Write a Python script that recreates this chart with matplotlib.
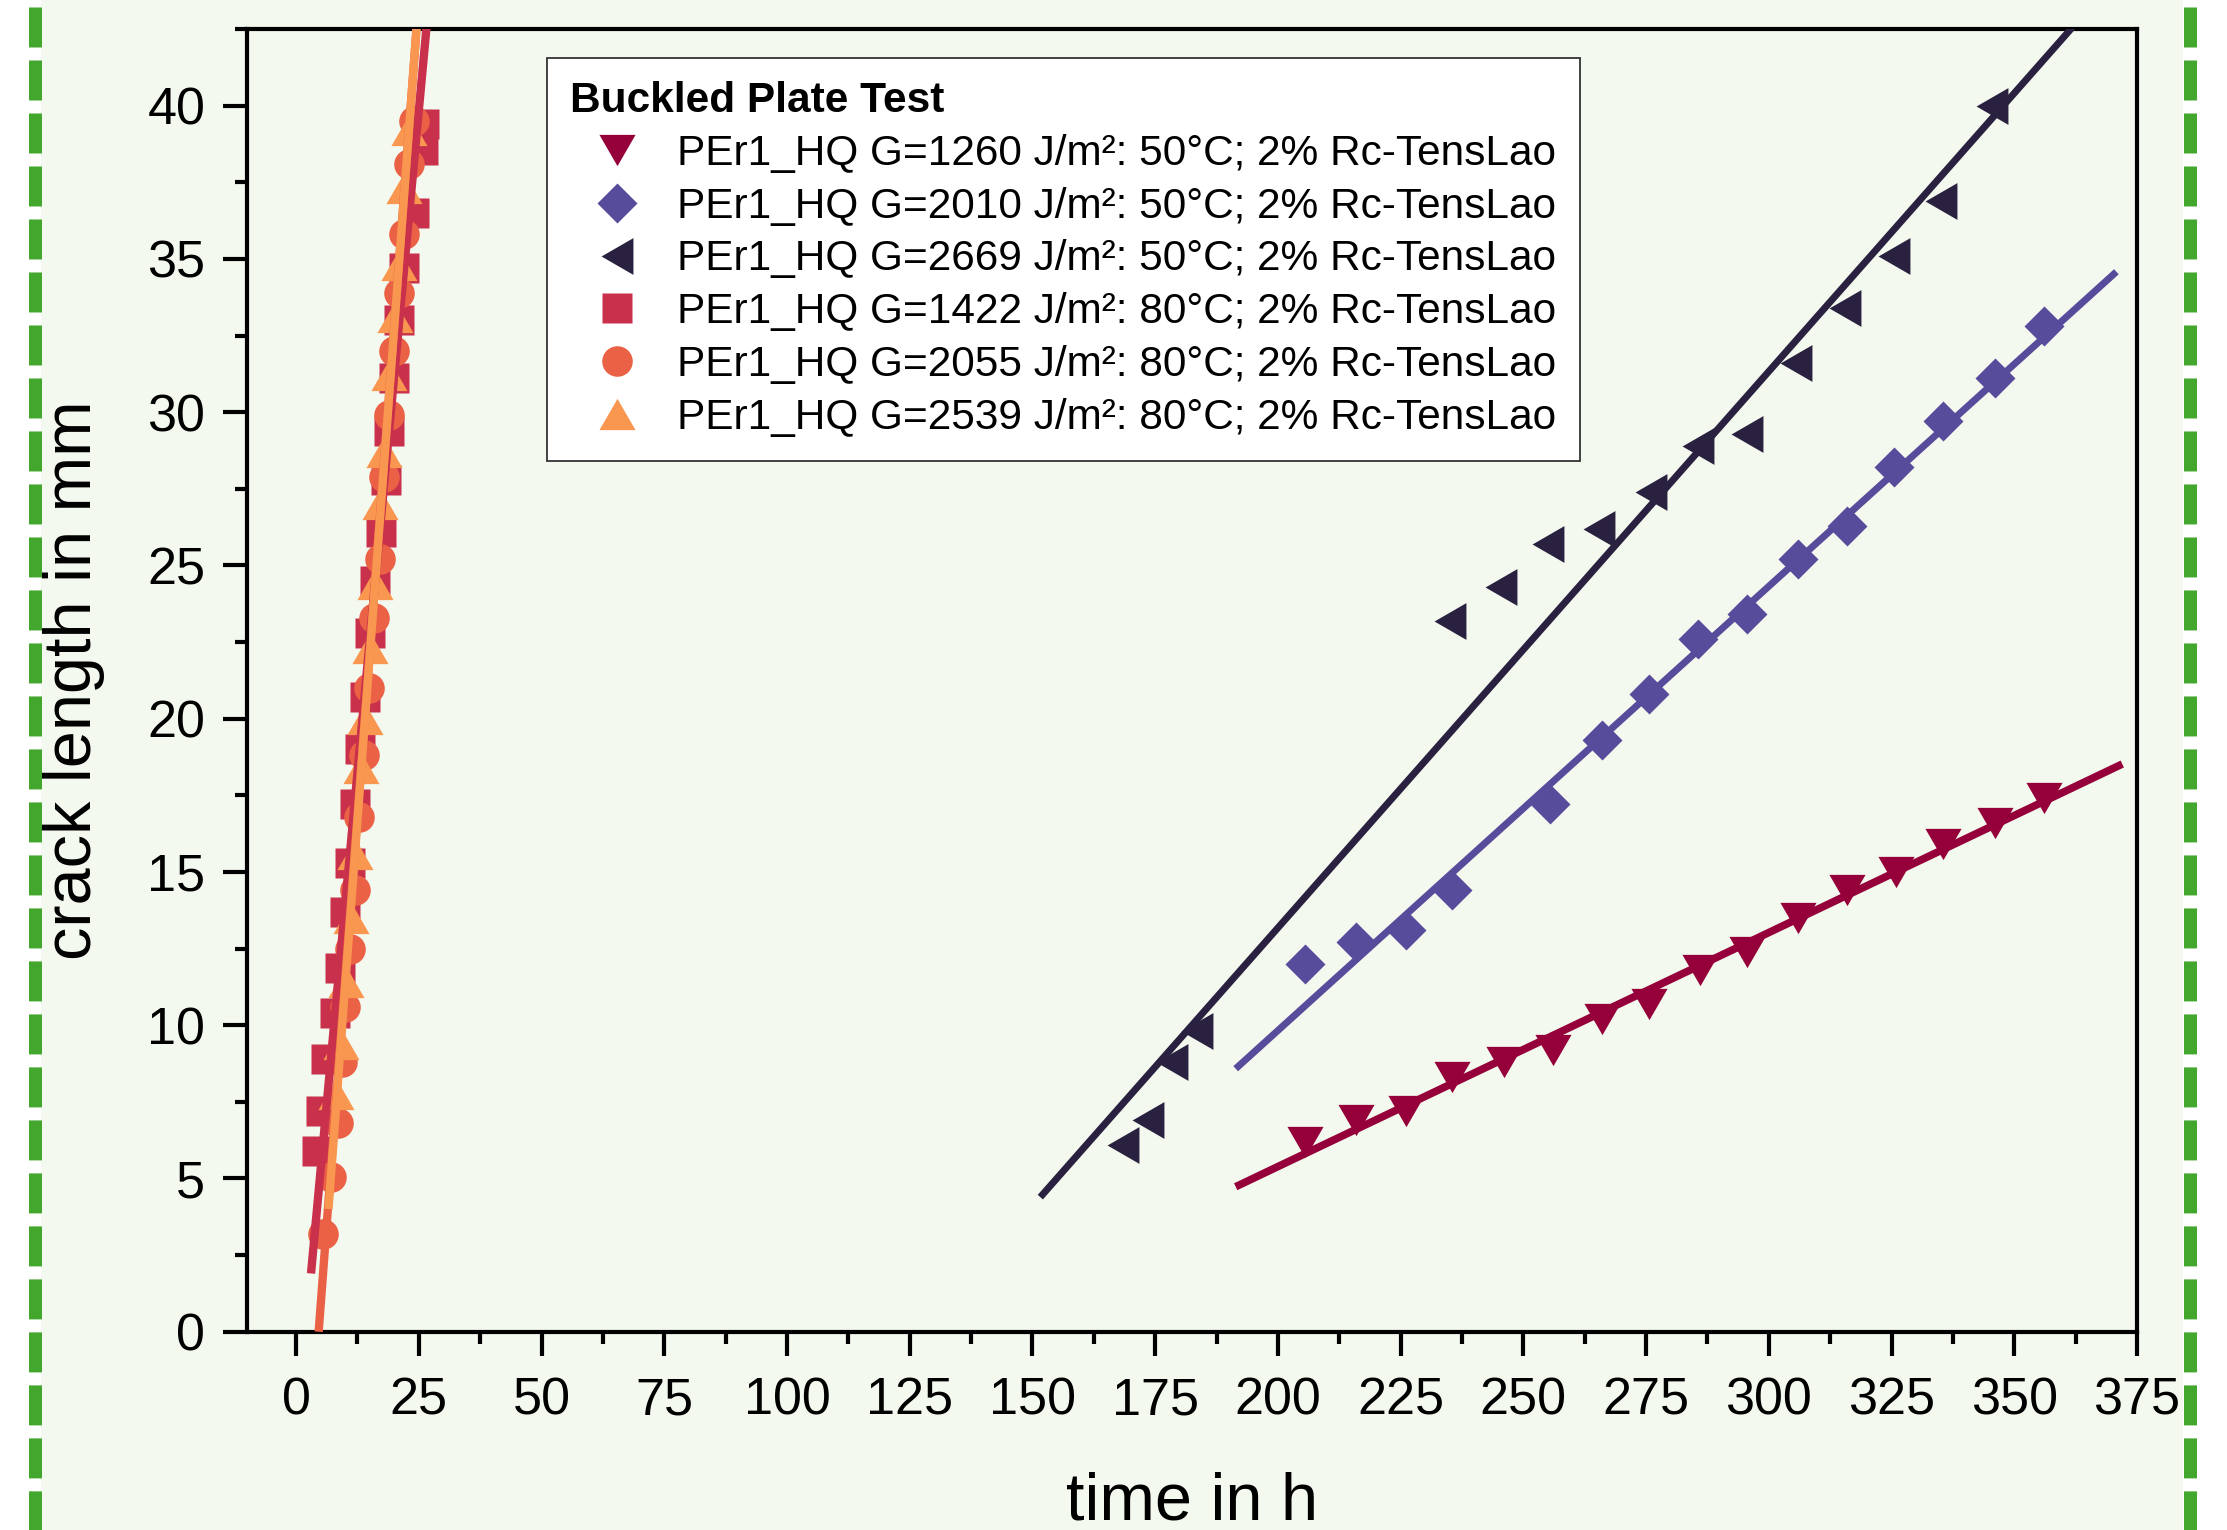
import matplotlib
matplotlib.use("Agg")
import matplotlib.pyplot as plt
from matplotlib.lines import Line2D
from matplotlib.patches import Rectangle
from matplotlib.ticker import MultipleLocator

plt.rcParams['font.family'] = ['Liberation Sans', 'DejaVu Sans']

# ---------------- data ----------------
# 50 degC samples
t_1260 = [205.5, 216, 226, 235.5, 246, 256, 266, 275.5, 286, 295.5, 306, 316, 326, 335.5, 346, 356]
a_1260 = [6.2, 6.9, 7.2, 8.3, 8.8, 9.2, 10.2, 10.7, 11.8, 12.4, 13.5, 14.4, 15.0, 15.9, 16.6, 17.4]

t_2010 = [205.5, 216, 226, 235.5, 255.5, 266, 275.5, 285.5, 295.5, 306, 316, 325.5, 335.5, 346, 356]
a_2010 = [12.0, 12.7, 13.1, 14.4, 17.2, 19.3, 20.8, 22.6, 23.4, 25.2, 26.3, 28.2, 29.7, 31.1, 32.8]

t_2669 = [168.5, 173.5, 178.5, 183.5, 235, 245.5, 255, 265.5, 276, 285.5, 295.5, 305.5, 315.5, 325.5, 335, 345.5]
a_2669 = [6.1, 6.9, 8.8, 9.8, 23.2, 24.3, 25.7, 26.2, 27.4, 28.9, 29.3, 31.6, 33.4, 35.1, 36.9, 40.0]

# 80 degC samples
t_1422 = [4.2, 5.1, 6.1, 8.0, 9.0, 10.0, 11.05, 12.1, 13.1, 14.1, 15.1, 16.1, 17.2, 18.3, 19.0, 20.0, 21.0, 22.05, 24.1, 25.8, 26.1]
a_1422 = [5.9, 7.2, 8.9, 10.4, 11.85, 13.7, 15.3, 17.2, 19.0, 20.7, 22.8, 24.5, 26.1, 27.8, 29.4, 31.1, 33.0, 34.7, 36.5, 38.55, 39.4]

t_2055 = [5.5, 7.1, 8.5, 9.3, 10.0, 11.05, 12.0, 12.9, 13.9, 14.9, 15.9, 17.0, 18.0, 19.0, 20.0, 21.0, 22.05, 23.1, 24.1]
a_2055 = [3.2, 5.05, 6.8, 8.8, 10.6, 12.5, 14.4, 16.8, 18.8, 21.0, 23.3, 25.2, 27.9, 29.9, 32.0, 33.9, 35.8, 38.1, 39.5]

t_2539 = [8.05, 9.1, 10.1, 11.1, 12.1, 13.15, 14.1, 15.1, 16.0, 17.0, 18.0, 19.0, 20.1, 21.0, 22.0, 23.0]
a_2539 = [7.75, 9.4, 11.4, 13.5, 15.6, 18.4, 20.0, 22.3, 24.4, 27.0, 28.7, 31.2, 33.1, 34.8, 37.3, 39.2]

# linear fit lines (start / end)
fit_t_1260, fit_a_1260 = [191.4, 372.0], [4.73, 18.52]
fit_t_2010, fit_a_2010 = [191.4, 370.8], [8.58, 34.58]
fit_t_2669, fit_a_2669 = [151.6, 372.0], [4.39, 44.4]
fit_t_1422, fit_a_1422 = [3.04, 27.0], [1.9, 43.3]
fit_t_2055, fit_a_2055 = [4.6, 24.9], [0.0, 43.3]
fit_t_2539, fit_a_2539 = [6.6, 24.9], [4.0, 43.3]

labels = [
    'PEr1_HQ G=1260 J/m²: 50°C; 2% Rc-TensLao',
    'PEr1_HQ G=2010 J/m²: 50°C; 2% Rc-TensLao',
    'PEr1_HQ G=2669 J/m²: 50°C; 2% Rc-TensLao',
    'PEr1_HQ G=1422 J/m²: 80°C; 2% Rc-TensLao',
    'PEr1_HQ G=2055 J/m²: 80°C; 2% Rc-TensLao',
    'PEr1_HQ G=2539 J/m²: 80°C; 2% Rc-TensLao',
]

# equilateral triangles (Origin style)
tri_down = [(-1, 0.866), (1, 0.866), (0, -0.866)]
tri_up = [(-1, -0.866), (1, -0.866), (0, 0.866)]
tri_left = [(-0.866, 0), (0.866, 1), (0.866, -1)]

# ---------------- figure ----------------
W, H = 2227, 1530
fig = plt.figure(figsize=(W / 100, H / 100), dpi=100)
fig.patch.set_facecolor('white')

# light green page + dashed green borders
fig.add_artist(Rectangle((41 / W, 0), (2183 - 41) / W, 1, transform=fig.transFigure,
                         facecolor='#f3f9ee', edgecolor='none', zorder=-10))
for xd in (34.5, 2189.5):
    fig.add_artist(Line2D([xd / W, xd / W], [1 - 7 / H, 0], transform=fig.transFigure,
                          color='#43a72e', lw=13 / 1.389, dashes=(40 / 13, 13 / 13),
                          dash_capstyle='butt'))

ax = fig.add_axes([247 / W, 1 - 1331.7 / H, (2137 - 247) / W, (1331.7 - 29) / H])
ax.set_facecolor('none')

series = [
    (t_1260, a_1260, fit_t_1260, fit_a_1260, '#95003a', tri_down, 26, 5.5),
    (t_2010, a_2010, fit_t_2010, fit_a_2010, '#574c9b', 'D', 20, 5),
    (t_2669, a_2669, fit_t_2669, fit_a_2669, '#29213f', tri_left, 26.5, 5),
    (t_1422, a_1422, fit_t_1422, fit_a_1422, '#c8304b', 's', 21, 6),
    (t_2055, a_2055, fit_t_2055, fit_a_2055, '#ea6146', 'o', 22, 6),
    (t_2539, a_2539, fit_t_2539, fit_a_2539, '#f9964f', tri_up, 26, 6),
]

handles = []
for i, (t, a, ft, fa, col, mk, ms, lw) in enumerate(series):
    h, = ax.plot(t, a, ls='none', marker=mk, ms=ms, color=col, mec='none', zorder=2 + i * 0.01)
    handles.append(h)
for i, (t, a, ft, fa, col, mk, ms, lw) in enumerate(series):
    ax.plot(ft, fa, '-', color=col, lw=lw, solid_capstyle='butt', zorder=3 + i * 0.01)

ax.set_xlim(-10, 375)
ax.set_ylim(0, 42.5)
ax.xaxis.set_major_locator(MultipleLocator(25))
ax.xaxis.set_minor_locator(MultipleLocator(12.5))
ax.yaxis.set_major_locator(MultipleLocator(5))
ax.yaxis.set_minor_locator(MultipleLocator(2.5))

for s in ax.spines.values():
    s.set_linewidth(3)
ax.tick_params(which='both', direction='out', width=3, top=False, right=False)
ax.tick_params(which='major', length=17.5)
ax.tick_params(which='minor', length=8.5)
ax.tick_params(axis='x', which='major', labelsize=37.5, pad=15)
ax.tick_params(axis='y', which='major', labelsize=37.5, pad=12.5)

ax.set_xlabel('time in h', fontsize=48)
ax.set_ylabel('crack length in mm', fontsize=48)
ax.xaxis.set_label_coords(0.5, -0.107)
ax.yaxis.set_label_coords(-0.075, 0.5)

leg = ax.legend(handles, labels, title='Buckled Plate Test', loc='upper left',
                bbox_to_anchor=(547 / W, 1 - 58 / H), bbox_transform=fig.transFigure,
                fontsize=30.5, title_fontproperties={'weight': 'bold', 'size': 30.5},
                alignment='left', frameon=True, fancybox=False, framealpha=1,
                edgecolor='#333333', facecolor='white', numpoints=1,
                borderpad=0.55, handlelength=2.2, handletextpad=0.33,
                labelspacing=0.3, borderaxespad=0)
leg.get_frame().set_linewidth(1.3)

fig.savefig('out.png', dpi=100)
